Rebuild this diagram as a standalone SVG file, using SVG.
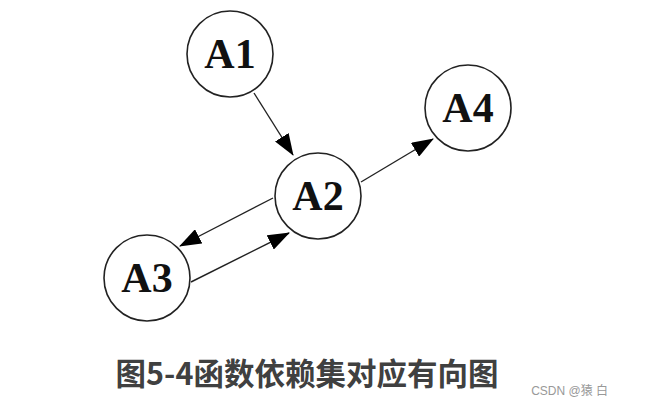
<svg xmlns="http://www.w3.org/2000/svg" width="648" height="407" viewBox="0 0 648 407">
<style>
.node circle{fill:#fff;stroke:#222;stroke-width:1.6}
.node text{font-family:"Liberation Serif",serif;font-weight:bold;font-size:42px;fill:#111;text-anchor:middle}
.edge{stroke:#222;stroke-width:1.4;fill:none;marker-end:url(#ah)}
</style>
<defs>
<marker id="ah" markerWidth="22" markerHeight="16" refX="21" refY="8" orient="auto" markerUnits="userSpaceOnUse">
<path d="M0,0 L22,8 L0,16 Z" fill="#000"/>
</marker>
</defs>
<rect width="648" height="407" fill="#fff"/>
<g id="connectors">
<line class="edge" x1="254" y1="93" x2="293" y2="155"/>
<line class="edge" x1="361" y1="182" x2="433" y2="139"/>
<line class="edge" x1="273" y1="198" x2="180" y2="246"/>
<line class="edge" x1="191" y1="282" x2="289" y2="233"/>
</g>
<g id="A1" class="node"><circle cx="230" cy="54" r="43"/><text x="230" y="68">A1</text></g>
<g id="A2" class="node"><circle cx="318" cy="196" r="43"/><text x="318" y="210">A2</text></g>
<g id="A3" class="node"><circle cx="147" cy="278" r="43"/><text x="147" y="292">A3</text></g>
<g id="A4" class="node"><circle cx="468" cy="108" r="43"/><text x="468" y="122">A4</text></g>
<text x="307" y="385" font-family="'Noto Sans CJK SC',sans-serif" font-weight="bold" font-size="30.5" fill="#404040" text-anchor="middle">图5-4函数依赖集对应有向图</text>
<text x="608" y="395" font-family="'Liberation Sans','Noto Sans CJK SC',sans-serif" font-size="12" fill="#999" text-anchor="end">CSDN @猿 白</text>
</svg>
